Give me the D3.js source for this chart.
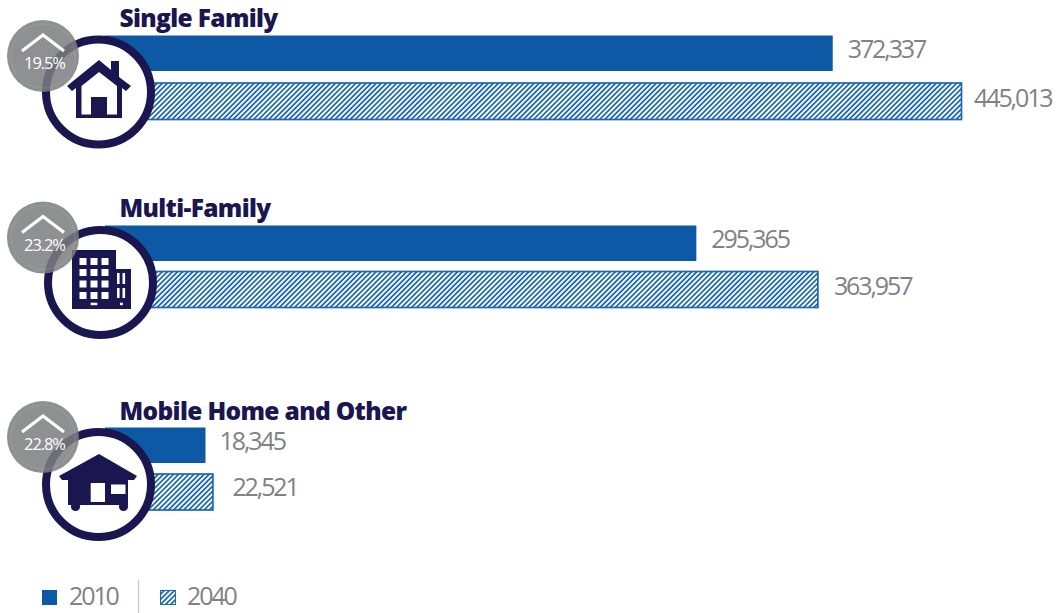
<!DOCTYPE html>
<html><head><meta charset="utf-8">
<script src="https://cdn.jsdelivr.net/npm/d3@7/dist/d3.min.js"></script>
<style>
html,body{margin:0;padding:0;background:#fff;overflow:hidden}
svg{display:block}
text{font-family:"Open Sans",sans-serif}
.val{font-size:25px;fill:#808285;letter-spacing:-2.1px}
.title{font-size:24.5px;font-weight:800;fill:#1a1650;letter-spacing:-.65px}
.pct{font-size:16.5px;fill:#fff;text-anchor:middle;letter-spacing:-1.1px}
</style></head><body>
<svg id="chart" width="1057" height="613"></svg>
<script>
// Housing units by type, 2010 and 2040
const categories = ["Single Family", "Multi-Family", "Mobile Home and Other"];
const values2010 = [372337, 295365, 18345];
const values2040 = [445013, 363957, 22521];
const growth = ["19.5%", "23.2%", "22.8%"];
const years = ["2010", "2040"];

const NAVY = "#1a1650", BLUE = "#0e59a6", LINE = "#1f66b2";
const svg = d3.select("#chart");
const x = d3.scaleLinear().domain([0, 445013]).range([173, 961.5]);
const barLeft = 105;               // bars run in behind the round icon

// Layout of each group
const layout = [
  {bar1: 35.5, bar2: 83, h1: 35.5, h2: 36.5, title: 27, ring: [98.5, 92], badge: [43, 56]},
  {bar1: 225.5, bar2: 271.5, h1: 35.5, h2: 36, title: 217, ring: [100.5, 282.5], badge: [43, 237.5]},
  {bar1: 427.5, bar2: 474, h1: 35.5, h2: 36, title: 420, ring: [98.5, 484.5], badge: [43, 437]}
];

const defs = svg.append("defs");
const hatch = defs.append("pattern").attr("id", "hatch").attr("patternUnits", "userSpaceOnUse")
  .attr("width", 3.6).attr("height", 3.6).attr("patternTransform", "rotate(45)");
hatch.append("rect").attr("width", 3.6).attr("height", 3.6).attr("fill", "#fff");
hatch.append("rect").attr("width", 1.8).attr("height", 3.6).attr("fill", "#1f6bb8");

const groups = svg.selectAll("g.cat").data(categories).join("g").attr("class", "cat");

groups.append("text").attr("class", "title").attr("x", 119.5)
  .attr("y", (d, i) => layout[i].title).text(d => d);

groups.append("rect").attr("x", barLeft).attr("y", (d, i) => layout[i].bar1)
  .attr("width", (d, i) => x(values2010[i]) - barLeft).attr("height", (d, i) => layout[i].h1)
  .attr("fill", BLUE);
groups.append("rect").attr("x", barLeft).attr("y", (d, i) => layout[i].bar2)
  .attr("width", (d, i) => x(values2040[i]) - barLeft).attr("height", (d, i) => layout[i].h2)
  .attr("fill", "url(#hatch)").attr("stroke", LINE).attr("stroke-width", 1.7);

const fmt = d3.format(",");
groups.append("text").attr("class", "val").attr("x", (d, i) => x(values2010[i]) + [15, 15, 14][i])
  .attr("y", (d, i) => layout[i].bar1 + 22.5).text((d, i) => fmt(values2010[i]));
groups.append("text").attr("class", "val").attr("x", (d, i) => x(values2040[i]) + [12.5, 16, 19.5][i])
  .attr("y", (d, i) => layout[i].bar2 + [23.5, 23.5, 22][i]).text((d, i) => fmt(values2040[i]));

// Round icon frames
groups.append("circle").attr("cx", (d, i) => layout[i].ring[0]).attr("cy", (d, i) => layout[i].ring[1])
  .attr("r", 52.5).attr("fill", "#fff").attr("stroke", NAVY).attr("stroke-width", 8);

// Pictograms, drawn in page coordinates of their own group
const icons = svg.append("g").attr("fill", NAVY);
const house = icons.append("g");
house.append("path").attr("d", "M99 60 L111 70 V61 H119 V77 L131 86 L126 91 L122 88 V118 H76 V88 L72 91 L67 86 Z");
house.append("path").attr("fill", "#fff").attr("d", "M99 72 L117 86 V114.5 H107 V97 H91 V114.5 H81.5 V86 Z");

const tower = icons.append("g");
tower.append("path").attr("d", "M72 250 H116 V269 H131 V309 H72 Z");
const winX = [79.5, 90.5, 101.5], winY = [258, 269, 280.5, 292];
winY.forEach(wy => winX.forEach(wx =>
  tower.append("rect").attr("x", wx).attr("y", wy).attr("width", 7).attr("height", 7).attr("fill", "#fff")));
[[90.7, 302.7, 6.6, 2.5], [120, 302.7, 2.8, 2.5], [117, 273, 2.6, 11], [122.5, 273, 2.6, 11], [117, 288, 2.6, 10], [122.5, 288, 2.6, 10]]
  .forEach(r => tower.append("rect").attr("x", r[0]).attr("y", r[1]).attr("width", r[2]).attr("height", r[3]).attr("fill", "#fff"));

const mobile = icons.append("g");
mobile.append("path").attr("d", "M99 454 L137 476 L134 480 H128 V505 H68 V480 H62 L59 476 Z");
mobile.append("circle").attr("cx", 75.5).attr("cy", 506.5).attr("r", 4.6);
mobile.append("circle").attr("cx", 123.5).attr("cy", 506.5).attr("r", 4.6);
mobile.append("rect").attr("x", 90.7).attr("y", 483).attr("width", 14.3).attr("height", 19).attr("fill", "#fff");
mobile.append("rect").attr("x", 111).attr("y", 484.5).attr("width", 14.5).attr("height", 9.5).attr("fill", "#fff");

// Growth badges sit over the frames and let them show through
const badges = svg.selectAll("g.badge").data(growth).join("g").attr("class", "badge")
  .attr("transform", (d, i) => `translate(${layout[i].badge})`);
badges.append("circle").attr("r", 36).attr("fill", "#7c7d80").attr("fill-opacity", .855);
badges.append("circle").attr("r", 32).attr("fill", "none").attr("stroke", "#fff").attr("stroke-opacity", .1).attr("stroke-width", 1);
badges.append("path").attr("d", "M-21 -5 L0 -21 L21 -5").attr("fill", "none").attr("stroke", "#fff").attr("stroke-width", 3.2);
badges.append("text").attr("class", "pct").attr("x", 1.5).attr("y", 13).text(d => d);

// Legend
const legend = svg.append("g");
legend.append("rect").attr("x", 42).attr("y", 590).attr("width", 15).attr("height", 15).attr("fill", BLUE);
legend.append("rect").attr("x", 160.5).attr("y", 590.5).attr("width", 15).attr("height", 14)
  .attr("fill", "url(#hatch)").attr("stroke", LINE).attr("stroke-width", 1);
legend.append("line").attr("x1", 138.5).attr("x2", 138.5).attr("y1", 580).attr("y2", 613)
  .attr("stroke", "#c4c5c7").attr("stroke-width", 1.2);
legend.selectAll("text").data(years).join("text").attr("class", "val")
  .attr("x", (d, i) => [69, 187][i]).attr("y", 605).text(d => d);
</script>
</body></html>
